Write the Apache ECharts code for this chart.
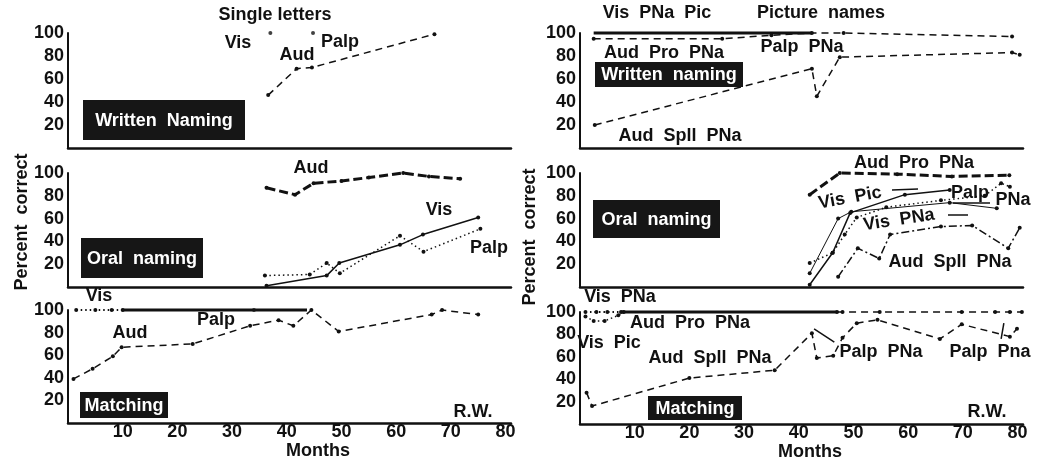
<!DOCTYPE html>
<html>
<head>
<meta charset="utf-8">
<script src="https://cdn.jsdelivr.net/npm/echarts@6/dist/echarts.min.js"></script>
<style>
  html, body { margin: 0; padding: 0; background: #fff; }
  #chart { width: 1049px; height: 465px; }
</style>
</head>
<body>
<div id="chart"></div>
<script>
// x ticks / y ticks
const monthTicks = [10, 20, 30, 40, 50, 60, 70, 80];
const percentTicks = [20, 40, 60, 80, 100];

// left column: single letters  [month, percent]
const tlVis = [[37, 100]];
const tlPalp = [[44.8, 100]];
const tlAud = [[36.6, 46], [41.8, 69], [44.6, 70], [67, 99]];

const mlAud = [[36.3, 87], [41.5, 81], [44.9, 91], [50, 93], [55, 96], [61.3, 100], [66, 97], [71.7, 95]];
const mlVis = [[36.3, 1], [47.3, 10], [49.6, 21], [60.7, 37], [64.9, 46], [75, 61]];
const mlPalp = [[36, 10], [44.2, 11], [47.3, 21], [49.7, 12], [60.7, 45], [65, 31], [75.4, 51]];

const blVisEarly = [[1.5, 100], [5, 100], [8, 100], [10, 100]];
const blVis = [[10, 100], [43.7, 100]];
const blPalp = [[34, 100]];
const blAud = [[1, 39], [4.5, 48], [8.2, 59], [9.8, 67], [22.8, 70], [33.3, 86], [38.5, 91], [41.2, 86],
  [44.5, 100], [49.5, 81], [66.5, 96], [68.4, 100], [75, 96]];

// right column: picture names
const trVisPNaPic = [[2.5, 100], [42.4, 100]];
const trAudProPNa = [[2.5, 95], [26, 95], [35, 98], [42.4, 100], [48.2, 100], [79, 97]];
const trAudSpllPNa = [[2.7, 20], [42.4, 69], [43.3, 45], [47.5, 79], [79, 83], [80.4, 81]];

const mrAudProPNa = [[42, 81], [47.5, 100], [58, 99], [68, 97], [78.5, 98]];
const mrVisPic = [[42, 2], [46.2, 30], [49.4, 65], [59.4, 81], [67.6, 85]];
const mrVisPNa = [[42, 12], [47.2, 60], [49.6, 66], [67.6, 74], [76.2, 69]];
const mrPalpPNa = [[42, 21], [46.2, 30], [48.4, 46], [50.6, 61], [56, 70], [66, 76], [74, 80], [77, 91], [78.6, 88]];
const mrAudSpllPNa = [[47.2, 9], [50.8, 34], [54.7, 25], [56.7, 46], [66, 53], [71.7, 54], [78.3, 34], [80.4, 52]];

const brVisPNaEarly = [[1, 100], [3, 100], [5, 100], [7.5, 100]];
const brVisPNa = [[7.5, 100], [47, 100]];
const brAudProPNa = [[47, 100], [48, 100], [54.8, 100], [69.8, 100], [75.9, 100], [78.6, 100], [80.8, 100]];
const brVisPic = [[1, 96], [2.5, 92], [4.5, 92], [7, 97], [8, 100]];
const brAudSpllPNa = [[1.2, 28], [2.2, 16], [20, 41], [35.6, 48], [42.4, 81], [43.3, 59], [46.3, 61], [48, 77],
  [50.6, 90], [54.4, 93], [65.8, 76], [69.8, 89], [78.6, 78], [79.9, 85]];
const brPalpA = [[42.8, 85], [46.5, 73]];
const brPalpB = [[77.5, 90], [77, 76]];

const INK = '#111';
const FONT = 'Liberation Sans, Arial, sans-serif';

const DASH = [7, 5];
const HEAVY = [9, 4];
const DOT = [1.5, 3];
const DASHDOT = [8, 3, 2, 3];

const chart = echarts.init(document.getElementById('chart'));

const panels = [
  { left: 68, top: 33, height: 115 },
  { left: 68, top: 173, height: 114 },
  { left: 68, top: 310, height: 113 },
  { left: 580, top: 33, height: 115 },
  { left: 580, top: 173, height: 114 },
  { left: 580, top: 312, height: 112 }
];

const grids = panels.map((p) => ({ left: p.left, top: p.top, width: 443, height: p.height }));

const xAxes = panels.map((p, i) => ({
  type: 'value',
  gridIndex: i,
  min: 0,
  max: 81,
  interval: 10,
  splitLine: { show: false },
  axisTick: { show: false },
  axisLine: { show: true, onZero: false, lineStyle: { color: INK, width: 2.5 } },
  axisLabel: {
    show: i === 2 || i === 5,
    margin: 0,
    color: INK,
    fontSize: 18,
    fontFamily: FONT,
    fontWeight: 'bold',
    formatter: (v) => (monthTicks.includes(v) ? String(v) : '')
  }
}));

const yAxes = panels.map((p, i) => ({
  type: 'value',
  gridIndex: i,
  min: 0,
  max: 100,
  interval: 20,
  splitLine: { show: false },
  axisTick: { show: false },
  axisLine: { show: true, lineStyle: { color: INK, width: 2 } },
  axisLabel: {
    margin: 4,
    color: INK,
    fontSize: 18,
    fontFamily: FONT,
    fontWeight: 'bold',
    formatter: (v) => (percentTicks.includes(v) ? String(v) : '')
  }
}));

function line(idx, data, type, width, symbolSize) {
  return {
    type: 'line',
    xAxisIndex: idx,
    yAxisIndex: idx,
    data: data,
    clip: false,
    symbol: 'circle',
    symbolSize: symbolSize === undefined ? 4 : symbolSize,
    itemStyle: { color: INK },
    lineStyle: { color: INK, width: width, type: type }
  };
}

function dots(idx, data) {
  return {
    type: 'scatter',
    xAxisIndex: idx,
    yAxisIndex: idx,
    data: data,
    clip: false,
    symbolSize: 4,
    itemStyle: { color: INK }
  };
}

const series = [
  dots(0, tlVis),
  dots(0, tlPalp),
  line(0, tlAud, DASH, 1.5),

  line(1, mlAud, HEAVY, 3),
  line(1, mlVis, 'solid', 1.5),
  line(1, mlPalp, DOT, 1.5),

  line(2, blVisEarly, DOT, 2),
  line(2, blVis, 'solid', 3, 0),
  dots(2, blPalp),
  line(2, blAud, DASH, 1.5),

  line(3, trVisPNaPic, 'solid', 3, 0),
  line(3, trAudProPNa, DASH, 1.5),
  line(3, trAudSpllPNa, DASH, 1.5),

  line(4, mrAudProPNa, HEAVY, 3),
  line(4, mrVisPic, 'solid', 1.5),
  line(4, mrVisPNa, 'solid', 1),
  line(4, mrPalpPNa, DOT, 1.5),
  line(4, mrAudSpllPNa, DASHDOT, 1.5),

  line(5, brVisPNaEarly, DOT, 2),
  line(5, brVisPNa, 'solid', 3, 0),
  line(5, brAudProPNa, DASH, 1.5),
  line(5, brVisPic, DOT, 1.5),
  line(5, brAudSpllPNa, DASH, 1.5),
  line(5, brPalpA, 'solid', 1.5, 0),
  line(5, brPalpB, 'solid', 1.5, 0)
];

function txt(x, y, s, opts) {
  const o = opts || {};
  return {
    type: 'text',
    x: x,
    y: y,
    rotation: o.rotation || 0,
    style: {
      text: s,
      fill: o.fill || INK,
      font: (o.weight || 'bold') + ' ' + (o.size || 18) + 'px ' + FONT,
      align: 'center',
      verticalAlign: 'middle',
      textAlign: 'center',
      textVerticalAlign: 'middle'
    },
    z: 100
  };
}

function box(x, y, w, h, s) {
  return [
    { type: 'rect', shape: { x: x, y: y, width: w, height: h }, style: { fill: '#161616' }, z: 90 },
    txt(x + w / 2, y + h / 2 + 1, s, { fill: '#fff', size: 18 })
  ];
}

function seg(x1, y1, x2, y2) {
  return { type: 'line', shape: { x1: x1, y1: y1, x2: x2, y2: y2 }, style: { stroke: INK, lineWidth: 1.5 }, z: 95 };
}

const graphics = [
  // left column
  txt(275, 15, 'Single letters'),
  txt(238, 43, 'Vis'),
  txt(297, 55, 'Aud'),
  txt(340, 42, 'Palp'),
  txt(311, 168, 'Aud'),
  txt(439, 210, 'Vis'),
  txt(489, 248, 'Palp'),
  txt(99, 296, 'Vis'),
  txt(130, 333, 'Aud'),
  txt(216, 320, 'Palp'),
  txt(473, 412, 'R.W.'),
  txt(318, 451, 'Months'),
  txt(22, 222, 'Percent  correct', { rotation: Math.PI / 2 }),
  ...box(83, 100, 162, 40, 'Written  Naming'),
  ...box(81, 238, 122, 40, 'Oral  naming'),
  ...box(80, 392, 88, 26, 'Matching'),

  // right column
  txt(657, 13, 'Vis  PNa  Pic'),
  txt(821, 13, 'Picture  names'),
  txt(664, 53, 'Aud  Pro  PNa'),
  txt(802, 47, 'Palp  PNa'),
  txt(680, 136, 'Aud  Spll  PNa'),
  txt(914, 163, 'Aud  Pro  PNa'),
  txt(850, 198, 'Vis  Pic', { rotation: 0.18 }),
  txt(970, 193, 'Palp'),
  txt(1013, 200, 'PNa'),
  txt(899, 220, 'Vis  PNa', { rotation: 0.15 }),
  txt(950, 262, 'Aud  Spll  PNa'),
  seg(892, 190, 918, 189),
  seg(948, 215, 968, 215),
  seg(953, 203, 990, 203),
  txt(620, 297, 'Vis  PNa'),
  txt(690, 323, 'Aud  Pro  PNa'),
  txt(609, 343, 'Vis  Pic'),
  txt(710, 358, 'Aud  Spll  PNa'),
  txt(881, 352, 'Palp  PNa'),
  txt(990, 352, 'Palp  Pna'),
  txt(987, 412, 'R.W.'),
  txt(810, 452, 'Months'),
  txt(530, 237, 'Percent  correct', { rotation: Math.PI / 2 }),
  ...box(595, 62, 148, 25, 'Written  naming'),
  ...box(593, 200, 127, 38, 'Oral  naming'),
  ...box(648, 396, 94, 24, 'Matching')
];

chart.setOption({
  animation: false,
  backgroundColor: '#fff',
  grid: grids,
  xAxis: xAxes,
  yAxis: yAxes,
  series: series,
  graphic: graphics
});
</script>
</body>
</html>
